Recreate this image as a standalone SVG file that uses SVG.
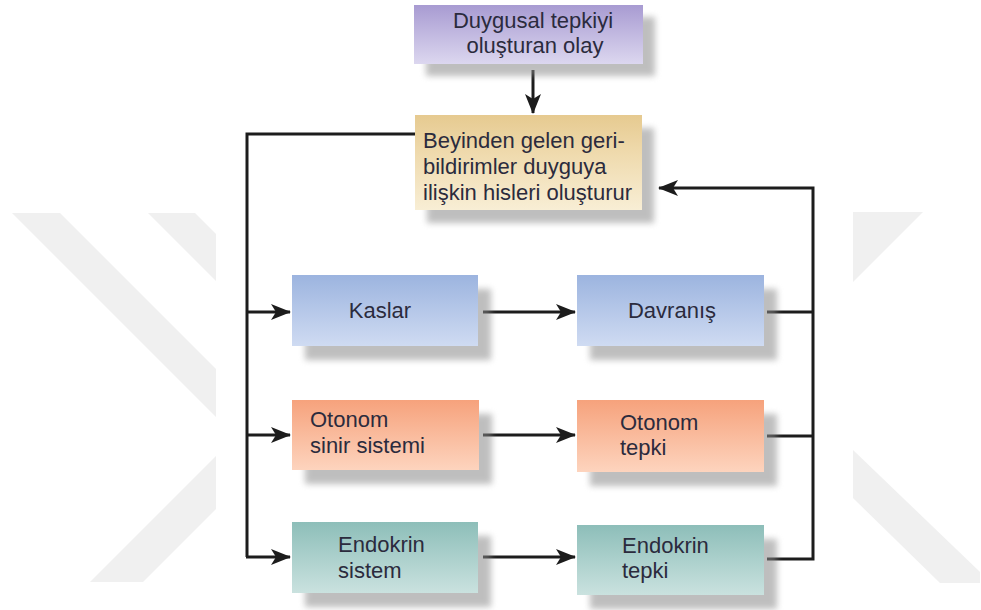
<svg xmlns="http://www.w3.org/2000/svg" width="981" height="610" viewBox="0 0 981 610">
<style>
.t{font-family:"Liberation Sans",Arial,sans-serif;font-size:22px;fill:#2b2b3d}
.ln{fill:none;stroke:#1c1c1c;stroke-width:3}
.wm{fill:#f0f0f0}
.sh{fill:#8a8a8a;opacity:0.55;filter:url(#blur)}
</style>
<defs>
<filter id="blur" x="-20%" y="-20%" width="140%" height="140%"><feGaussianBlur stdDeviation="3"/></filter>
<linearGradient id="gPurple" x1="0" y1="0" x2="0" y2="1"><stop offset="0" stop-color="#a89bd2"/><stop offset="1" stop-color="#dcd7ef"/></linearGradient>
<linearGradient id="gTan" x1="0" y1="0" x2="0" y2="1"><stop offset="0" stop-color="#e6ca90"/><stop offset="0.4" stop-color="#efdaad"/><stop offset="1" stop-color="#f8eed5"/></linearGradient>
<linearGradient id="gBlue" x1="0" y1="0" x2="0" y2="1"><stop offset="0" stop-color="#9cb4df"/><stop offset="1" stop-color="#cfdbf2"/></linearGradient>
<linearGradient id="gOrange" x1="0" y1="0" x2="0" y2="1"><stop offset="0" stop-color="#f6a27c"/><stop offset="1" stop-color="#fdd4be"/></linearGradient>
<linearGradient id="gTeal" x1="0" y1="0" x2="0" y2="1"><stop offset="0" stop-color="#8dbeb9"/><stop offset="1" stop-color="#cae2df"/></linearGradient>
<marker id="ah" markerUnits="userSpaceOnUse" markerWidth="20" markerHeight="16" refX="19" refY="8" orient="auto">
<path d="M0,0 L20,8 L0,16 L5,8 Z" fill="#1c1c1c"/>
</marker>
</defs>
<rect width="981" height="610" fill="#ffffff"/>
<g id="watermark">
<polygon class="wm" points="12,213 60,213 216,369 216,417"/>
<polygon class="wm" points="148,213 195,213 216,234 216,281"/>
<polygon class="wm" points="90,582 143,582 216,509 216,456"/>
<polygon class="wm" points="853,212 923,212 853,282"/>
<polygon class="wm" points="853,450 980,572 980,583 940,583 853,498"/>
</g>
<g id="connectors">
<path class="ln" d="M533,70 V113" marker-end="url(#ah)"/>
<path class="ln" d="M415,134 H247 V557"/>
<path class="ln" d="M247,312 H290" marker-end="url(#ah)"/>
<path class="ln" d="M247,435 H290" marker-end="url(#ah)"/>
<path class="ln" d="M246,557 H290" marker-end="url(#ah)"/>
<path class="ln" d="M483,312 H575" marker-end="url(#ah)"/>
<path class="ln" d="M483,435 H575" marker-end="url(#ah)"/>
<path class="ln" d="M483,557 H575" marker-end="url(#ah)"/>
<path class="ln" d="M767,312 H813"/>
<path class="ln" d="M767,436 H813"/>
<path class="ln" d="M767,559 H813 V188 H659" marker-end="url(#ah)"/>
</g>
<g id="node-olay">
<rect class="sh" x="426" y="17" width="229" height="59"/>
<rect x="414" y="5" width="229" height="59" fill="url(#gPurple)"/>
<text class="t" x="533" y="28" text-anchor="middle">Duygusal tepkiyi</text>
<text class="t" x="535" y="53" text-anchor="middle">oluşturan olay</text>
</g>
<g id="node-beyin">
<rect class="sh" x="427" y="128" width="227" height="95"/>
<rect x="415" y="115" width="227" height="95" fill="url(#gTan)"/>
<text class="t" x="423" y="148">Beyinden gelen geri-</text>
<text class="t" x="423" y="174">bildirimler duyguya</text>
<text class="t" x="423" y="200">ilişkin hisleri oluşturur</text>
</g>
<g id="node-kaslar">
<rect class="sh" x="305" y="289" width="186" height="71"/>
<rect x="292" y="275" width="186" height="71" fill="url(#gBlue)"/>
<text class="t" x="380" y="318" text-anchor="middle">Kaslar</text>
</g>
<g id="node-davranis">
<rect class="sh" x="590" y="289" width="187" height="71"/>
<rect x="577" y="275" width="187" height="71" fill="url(#gBlue)"/>
<text class="t" x="672" y="318" text-anchor="middle">Davranış</text>
</g>
<g id="node-otonom-sinir">
<rect class="sh" x="305" y="414" width="187" height="70"/>
<rect x="292" y="400" width="187" height="70" fill="url(#gOrange)"/>
<text class="t" x="310" y="427">Otonom</text>
<text class="t" x="310" y="453">sinir sistemi</text>
</g>
<g id="node-otonom-tepki">
<rect class="sh" x="590" y="414" width="187" height="72"/>
<rect x="577" y="400" width="187" height="72" fill="url(#gOrange)"/>
<text class="t" x="620" y="430">Otonom</text>
<text class="t" x="620" y="455">tepki</text>
</g>
<g id="node-endokrin-sistem">
<rect class="sh" x="305" y="536" width="186" height="71"/>
<rect x="292" y="522" width="186" height="71" fill="url(#gTeal)"/>
<text class="t" x="338" y="552">Endokrin</text>
<text class="t" x="338" y="578">sistem</text>
</g>
<g id="node-endokrin-tepki">
<rect class="sh" x="590" y="539" width="187" height="70"/>
<rect x="577" y="525" width="187" height="70" fill="url(#gTeal)"/>
<text class="t" x="622" y="553">Endokrin</text>
<text class="t" x="622" y="578">tepki</text>
</g>
</svg>
